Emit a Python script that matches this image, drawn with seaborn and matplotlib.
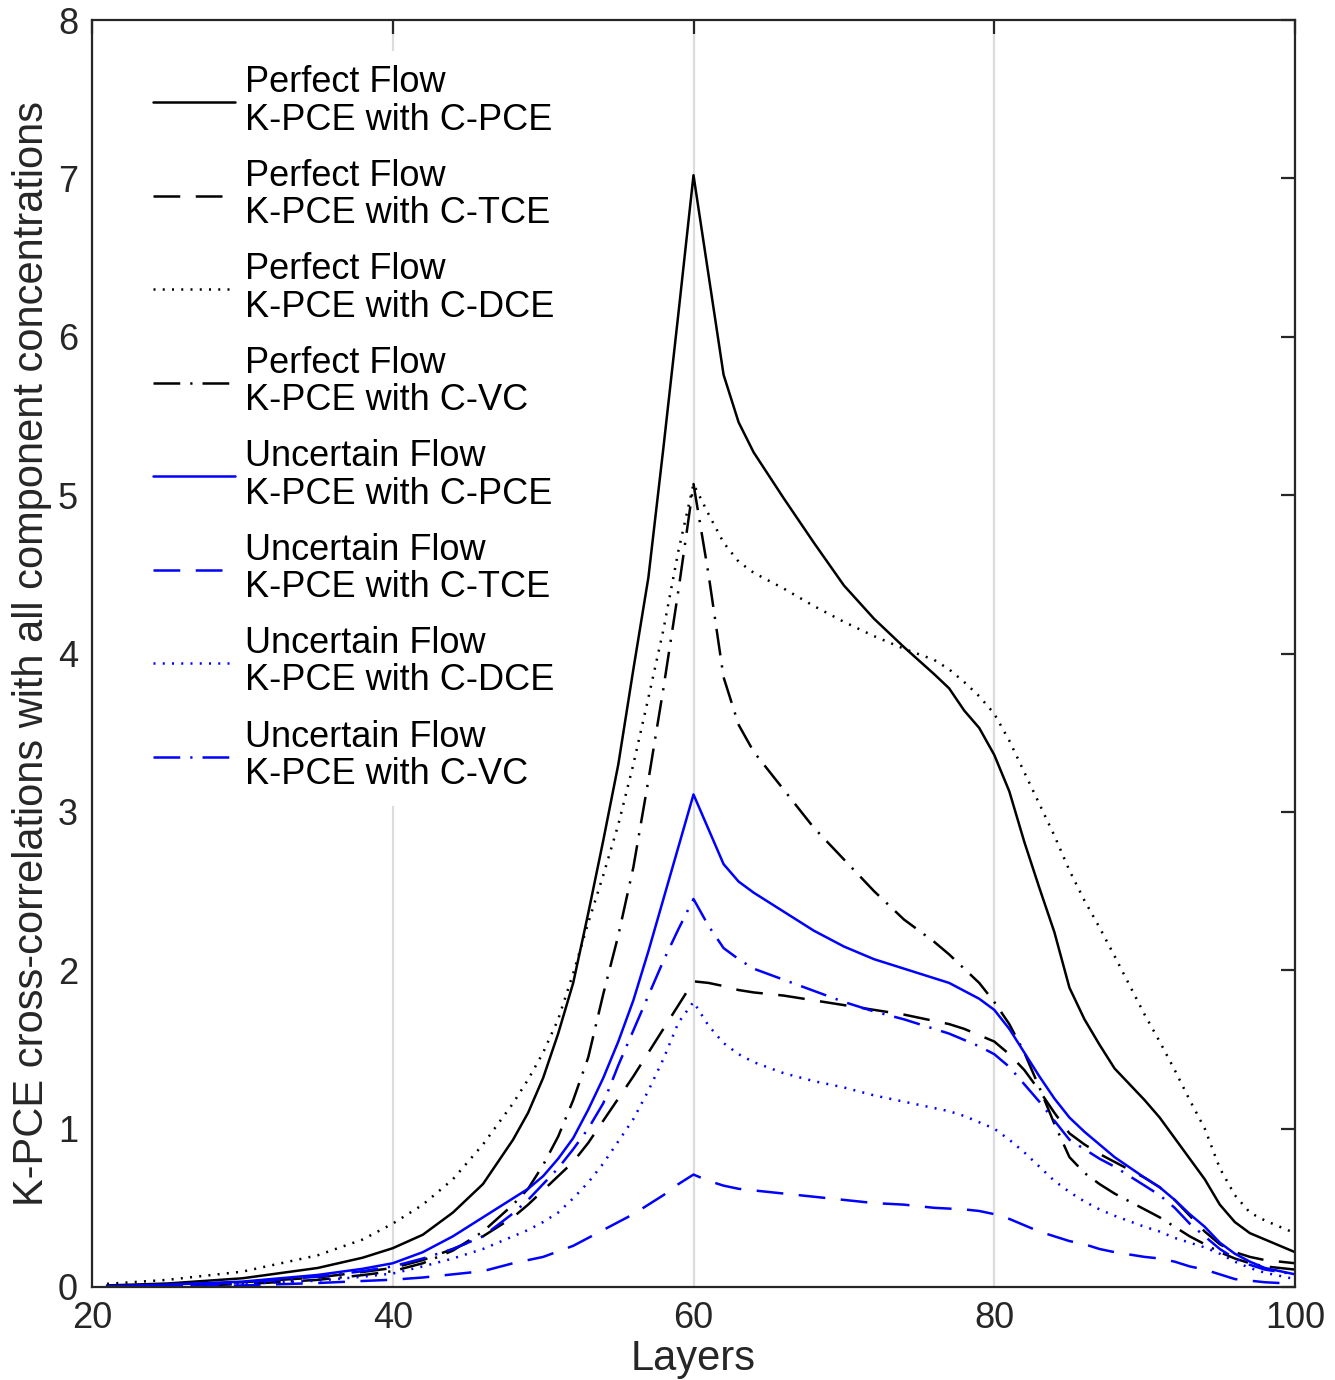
import matplotlib
matplotlib.use("Agg")
import numpy as np
import pandas as pd
import seaborn as sns
import matplotlib.pyplot as plt

# ---------------- data ----------------
layers = [21, 25, 30, 35, 38, 40, 42, 44, 46, 48, 49, 50, 51, 52, 53, 54, 55, 56, 57, 58, 59, 60,
          61, 62, 63, 64, 66, 68, 70, 72, 74, 76, 77, 78, 79, 80, 81, 82, 83, 84, 85, 86, 87, 88,
          90, 91, 92, 93, 94, 95, 96, 97, 98, 100]

pf_pce = [0.01, 0.022, 0.055, 0.12, 0.185, 0.245, 0.33, 0.47, 0.65, 0.93, 1.10, 1.32, 1.60, 1.92, 2.36, 2.82,
          3.30, 3.90, 4.48, 5.30, 6.15, 7.02, 6.39, 5.76, 5.46, 5.27, 4.98, 4.70, 4.43, 4.22, 4.04, 3.87,
          3.78, 3.64, 3.53, 3.36, 3.13, 2.81, 2.52, 2.24, 1.89, 1.69, 1.53, 1.38, 1.18, 1.07, 0.94, 0.81,
          0.68, 0.52, 0.41, 0.34, 0.30, 0.22]
pf_tce = [0.003, 0.01, 0.03, 0.06, 0.095, 0.12, 0.17, 0.24, 0.32, 0.44, 0.52, 0.61, 0.70, 0.79, 0.91, 1.05,
          1.19, 1.33, 1.48, 1.63, 1.78, 1.93, 1.92, 1.90, 1.875, 1.86, 1.84, 1.81, 1.78, 1.75, 1.72, 1.68,
          1.66, 1.63, 1.59, 1.55, 1.47, 1.37, 1.24, 1.10, 0.97, 0.90, 0.84, 0.79, 0.69, 0.63, 0.55, 0.45,
          0.35, 0.27, 0.22, 0.19, 0.17, 0.15]
pf_dce = [0.02, 0.045, 0.097, 0.20, 0.30, 0.40, 0.52, 0.68, 0.90, 1.16, 1.31, 1.48, 1.69, 1.98, 2.30, 2.60,
          2.92, 3.30, 3.72, 4.15, 4.65, 5.07, 4.88, 4.70, 4.58, 4.51, 4.41, 4.30, 4.20, 4.11, 4.03, 3.96,
          3.90, 3.82, 3.73, 3.62, 3.45, 3.25, 3.05, 2.85, 2.63, 2.44, 2.27, 2.09, 1.72, 1.55, 1.37, 1.18,
          1.00, 0.75, 0.58, 0.47, 0.42, 0.34]
pf_vc = [0.0, 0.005, 0.018, 0.045, 0.075, 0.10, 0.15, 0.23, 0.35, 0.52, 0.62, 0.77, 0.95, 1.18, 1.45, 1.85,
         2.22, 2.65, 3.20, 3.78, 4.40, 5.07, 4.50, 3.85, 3.55, 3.38, 3.14, 2.90, 2.70, 2.50, 2.32, 2.18,
         2.10, 2.01, 1.92, 1.80, 1.66, 1.48, 1.26, 1.03, 0.82, 0.72, 0.65, 0.59, 0.49, 0.44, 0.38, 0.32,
         0.27, 0.22, 0.18, 0.15, 0.13, 0.11]
uf_pce = [0.005, 0.015, 0.034, 0.076, 0.115, 0.15, 0.22, 0.32, 0.44, 0.56, 0.62, 0.70, 0.81, 0.94, 1.12, 1.32,
          1.55, 1.81, 2.12, 2.45, 2.78, 3.11, 2.89, 2.67, 2.56, 2.49, 2.37, 2.25, 2.15, 2.07, 2.01, 1.95,
          1.92, 1.87, 1.82, 1.75, 1.63, 1.48, 1.33, 1.19, 1.07, 0.98, 0.90, 0.82, 0.69, 0.63, 0.55, 0.46,
          0.38, 0.28, 0.21, 0.16, 0.12, 0.08]
uf_tce = [0.0, 0.003, 0.01, 0.025, 0.038, 0.046, 0.06, 0.08, 0.10, 0.15, 0.17, 0.19, 0.225, 0.26, 0.31, 0.36,
          0.41, 0.46, 0.52, 0.58, 0.65, 0.71, 0.67, 0.64, 0.62, 0.61, 0.59, 0.57, 0.55, 0.53, 0.52, 0.50,
          0.495, 0.49, 0.48, 0.46, 0.43, 0.39, 0.35, 0.32, 0.29, 0.27, 0.24, 0.22, 0.19, 0.18, 0.16, 0.13,
          0.11, 0.08, 0.05, 0.04, 0.03, 0.02]
uf_dce = [0.002, 0.008, 0.02, 0.04, 0.065, 0.085, 0.13, 0.18, 0.24, 0.32, 0.36, 0.41, 0.47, 0.56, 0.66, 0.78,
          0.92, 1.06, 1.24, 1.44, 1.67, 1.80, 1.65, 1.54, 1.47, 1.42, 1.35, 1.30, 1.26, 1.21, 1.17, 1.13,
          1.11, 1.08, 1.04, 1.00, 0.93, 0.85, 0.76, 0.67, 0.60, 0.54, 0.49, 0.45, 0.38, 0.35, 0.31, 0.28,
          0.25, 0.21, 0.16, 0.12, 0.09, 0.05]
uf_vc = [0.003, 0.01, 0.028, 0.065, 0.10, 0.13, 0.18, 0.24, 0.32, 0.465, 0.55, 0.65, 0.75, 0.87, 1.0, 1.16,
         1.40, 1.62, 1.84, 2.06, 2.26, 2.45, 2.28, 2.14, 2.07, 2.01, 1.94, 1.87, 1.80, 1.74, 1.69, 1.63,
         1.60, 1.56, 1.52, 1.47, 1.39, 1.28, 1.17, 1.05, 0.93, 0.87, 0.81, 0.76, 0.64, 0.58, 0.50, 0.40,
         0.32, 0.24, 0.18, 0.14, 0.11, 0.08]

series_labels = [
    "Perfect Flow\nK-PCE with C-PCE",
    "Perfect Flow\nK-PCE with C-TCE",
    "Perfect Flow\nK-PCE with C-DCE",
    "Perfect Flow\nK-PCE with C-VC",
    "Uncertain Flow\nK-PCE with C-PCE",
    "Uncertain Flow\nK-PCE with C-TCE",
    "Uncertain Flow\nK-PCE with C-DCE",
    "Uncertain Flow\nK-PCE with C-VC",
]
series_values = [pf_pce, pf_tce, pf_dce, pf_vc, uf_pce, uf_tce, uf_dce, uf_vc]
x_ticks = [20, 40, 60, 80, 100]
y_ticks = [0, 1, 2, 3, 4, 5, 6, 7, 8]

# long-form table
frames = []
for lab, vals in zip(series_labels, series_values):
    frames.append(pd.DataFrame({"Layers": layers, "value": vals, "series": lab}))
df = pd.concat(frames, ignore_index=True)

# ---------------- styling ----------------
sns.set_theme(style="white")
plt.rcParams["font.family"] = ["Liberation Sans", "DejaVu Sans"]

LW = 1.8
solid = ""
dashed = (10.7, 6.2)
dotted = (0.8, 2.9)
dashdot = (10.7, 4.0, 0.9, 4.0)
palette = {lab: ("black" if lab.startswith("Perfect") else "#0000ff") for lab in series_labels}
dash_map = dict(zip(series_labels, [solid, dashed, dotted, dashdot, solid, dashed, dotted, dashdot]))

fig = plt.figure(figsize=(13.35, 13.8), dpi=100)
ax = fig.add_axes([92 / 1335, 93 / 1380, 1203 / 1335, 1267 / 1380])

sns.lineplot(data=df, x="Layers", y="value", hue="series", style="series",
             hue_order=series_labels, style_order=series_labels,
             palette=palette, dashes=dash_map, linewidth=LW,
             estimator=None, sort=False, legend=False, ax=ax)

ax.set_xlim(20, 100)
ax.set_ylim(0, 8)
ax.set_xticks(x_ticks)
ax.set_yticks(y_ticks)
ax.set_xticklabels([str(t) for t in x_ticks])
ax.set_yticklabels([str(t) for t in y_ticks])

ax.set_axisbelow(True)
ax.xaxis.grid(True, color="#dcdcdc", linewidth=1.6)
ax.yaxis.grid(False)

for sp in ax.spines.values():
    sp.set_visible(True)
    sp.set_color("#262626")
    sp.set_linewidth(1.6)

ax.tick_params(direction="in", length=10, width=1.6, top=True, right=True,
               labelsize=26, pad=10, color="#262626", labelcolor="#262626")

ax.set_xlabel("Layers", fontsize=30, color="#262626", labelpad=2)
ax.set_ylabel("K-PCE cross-correlations with all component concentrations",
              fontsize=30, color="#262626", labelpad=4)

handles = list(ax.lines[:8])
leg = ax.legend(handles, series_labels, loc="upper left",
                bbox_to_anchor=(0.039, 0.9755), borderaxespad=0,
                fontsize=26, frameon=True, fancybox=False, framealpha=1,
                facecolor="white", edgecolor="none",
                handlelength=2.27, handletextpad=0.28, labelspacing=0.59,
                borderpad=0.4)
for t in leg.get_texts():
    t.set_linespacing(1.08)
    t.set_color("black")

fig.savefig("out.png", dpi=100)
